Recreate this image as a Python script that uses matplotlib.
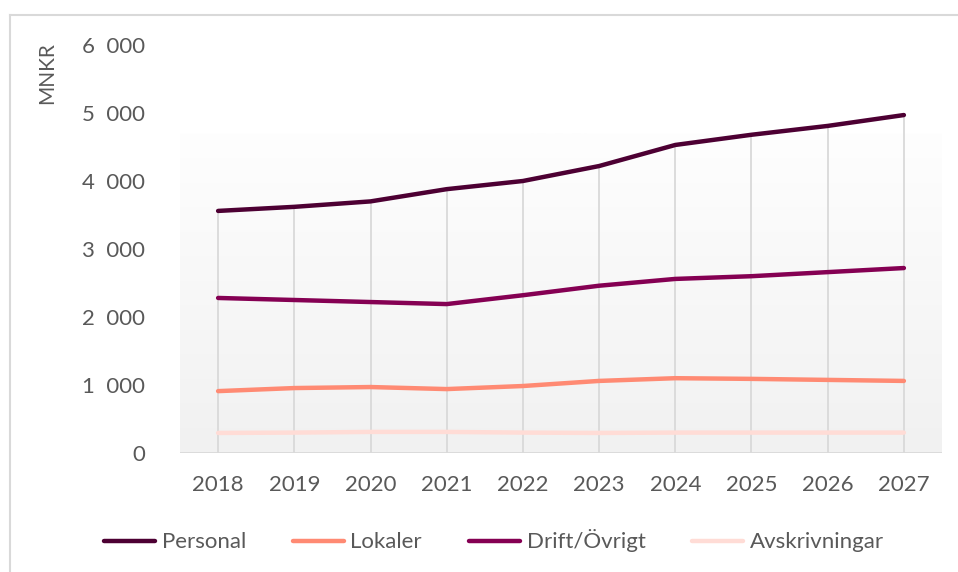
import numpy as np
import matplotlib
matplotlib.use("Agg")
import matplotlib.pyplot as plt
from matplotlib.lines import Line2D

years = ["2018", "2019", "2020", "2021", "2022", "2023", "2024", "2025", "2026", "2027"]
personal = [3560, 3620, 3700, 3880, 4000, 4220, 4530, 4680, 4810, 4970]
drift = [2280, 2250, 2220, 2190, 2320, 2460, 2560, 2600, 2660, 2720]
lokaler = [910, 955, 970, 940, 985, 1060, 1100, 1090, 1075, 1060]
avskr = [295, 300, 310, 310, 300, 295, 300, 300, 300, 300]

series_names = ["Personal", "Lokaler", "Drift/Övrigt", "Avskrivningar"]
series_colors = ["#4d0033", "#ff8a73", "#850053", "#ffdcd6"]

W, H = 958, 572
TEXT = "#595959"
plt.rcParams["font.family"] = ["Lato", "DejaVu Sans"]

fig = plt.figure(figsize=(W / 100, H / 100), dpi=100)
ax = fig.add_axes([180 / W, 1 - 453 / H, (942 - 180) / W, (453 - 45) / H])

x = np.arange(len(years))
ax.set_xlim(-0.5, len(years) - 0.5)
ax.set_ylim(0, 6000)

# gradient back wall
grad = np.linspace(0, 1, 256).reshape(-1, 1)
cmap = matplotlib.colors.LinearSegmentedColormap.from_list("wall", ["#f1f1f1", "#fefefe"])
ax.imshow(grad, extent=(-0.5, len(years) - 0.5, 0, 4700), origin="lower",
          aspect="auto", cmap=cmap, zorder=0)

# drop lines and floor
ax.vlines(x, 0, personal, color="#d9d9d9", lw=1.3, zorder=1)
ax.axhline(0, color="#d9d9d9", lw=2, zorder=1)

data = [personal, lokaler, drift, avskr]
for vals, c in zip(data, series_colors):
    ax.plot(x, vals, color=c, lw=3.2, solid_capstyle="round", zorder=3)

for s in ax.spines.values():
    s.set_visible(False)
ax.set_xticks(x)
ax.set_xticklabels(years)
ax.set_yticks(range(0, 6001, 1000))
ax.set_yticklabels(["0"] + [f"{v // 1000}  000" for v in range(1000, 6001, 1000)])
ax.tick_params(axis="both", length=0, labelsize=16, colors=TEXT)
ax.tick_params(axis="y", pad=25)
ax.tick_params(axis="x", pad=16)

fig.text(47 / W, 1 - 73 / H, "MNKR", rotation=90, ha="center", va="center",
         fontsize=15, color=TEXT)

handles = [Line2D([], [], color=c, lw=3.2, solid_capstyle="round") for c in series_colors]
fig.legend(handles, series_names, loc="center", ncol=4,
           bbox_to_anchor=(494 / W, 1 - 541 / H), frameon=False,
           fontsize=16, labelcolor=TEXT, handlelength=2.3, handletextpad=0.3,
           columnspacing=2.1)

# outer frame
fig.add_artist(Line2D([10 / W, 1], [1 - 15 / H, 1 - 15 / H], color="#d9d9d9", lw=1.5))
fig.add_artist(Line2D([10 / W, 10 / W], [0, 1 - 15 / H], color="#d9d9d9", lw=1.5))

fig.savefig("out.png", dpi=100)
